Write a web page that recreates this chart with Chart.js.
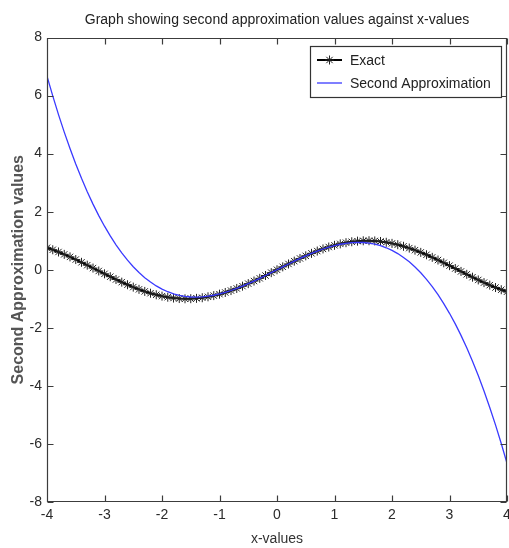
<!DOCTYPE html>
<html><head><meta charset="utf-8">
<script src="https://cdn.jsdelivr.net/npm/chart.js@4"></script>
<style>html,body{margin:0;padding:0;background:#fff;}canvas{display:block;}</style>
</head><body>
<canvas id="c" width="509" height="548"></canvas>
<script>
const xValues = [-4.0,-3.9,-3.8,-3.7,-3.6,-3.5,-3.4,-3.3,-3.2,-3.1,-3.0,-2.9,-2.8,-2.7,-2.6,-2.5,-2.4,-2.3,-2.2,-2.1,-2.0,-1.9,-1.8,-1.7,-1.6,-1.5,-1.4,-1.3,-1.2,-1.1,-1.0,-0.9,-0.8,-0.7,-0.6,-0.5,-0.4,-0.3,-0.2,-0.1,0.0,0.1,0.2,0.3,0.4,0.5,0.6,0.7,0.8,0.9,1.0,1.1,1.2,1.3,1.4,1.5,1.6,1.7,1.8,1.9,2.0,2.1,2.2,2.3,2.4,2.5,2.6,2.7,2.8,2.9,3.0,3.1,3.2,3.3,3.4,3.5,3.6,3.7,3.8,3.9,4.0];
const exactValues = [0.757,0.688,0.612,0.530,0.443,0.351,0.256,0.158,0.058,-0.042,-0.141,-0.239,-0.335,-0.427,-0.516,-0.598,-0.675,-0.746,-0.808,-0.863,-0.909,-0.946,-0.974,-0.992,-1.000,-0.997,-0.985,-0.964,-0.932,-0.891,-0.841,-0.783,-0.717,-0.644,-0.565,-0.479,-0.389,-0.296,-0.199,-0.100,0.000,0.100,0.199,0.296,0.389,0.479,0.565,0.644,0.717,0.783,0.841,0.891,0.932,0.964,0.985,0.997,1.000,0.992,0.974,0.946,0.909,0.863,0.808,0.746,0.675,0.598,0.516,0.427,0.335,0.239,0.141,0.042,-0.058,-0.158,-0.256,-0.351,-0.443,-0.530,-0.612,-0.688,-0.757];
const approxValues = [6.667,5.987,5.345,4.742,4.176,3.646,3.151,2.690,2.261,1.865,1.500,1.165,0.859,0.581,0.329,0.104,-0.096,-0.272,-0.425,-0.557,-0.667,-0.757,-0.828,-0.881,-0.917,-0.938,-0.943,-0.934,-0.912,-0.878,-0.833,-0.779,-0.715,-0.643,-0.564,-0.479,-0.389,-0.296,-0.199,-0.100,0.000,0.100,0.199,0.296,0.389,0.479,0.564,0.643,0.715,0.779,0.833,0.878,0.912,0.934,0.943,0.938,0.917,0.881,0.828,0.757,0.667,0.557,0.425,0.272,0.096,-0.104,-0.329,-0.581,-0.859,-1.165,-1.500,-1.865,-2.261,-2.690,-3.151,-3.646,-4.176,-4.742,-5.345,-5.987,-6.667];
const xTicks = [-4,-3,-2,-1,0,1,2,3,4];
const yTicks = [-8,-6,-4,-2,0,2,4,6,8];
const seriesLabels = ['Exact','Second Approximation'];
const titleText = 'Graph showing second approximation values against x-values';
const xTitle = 'x-values';
const yTitle = 'Second Approximation values';

const tickFont = {family:'"Liberation Sans",Arial,sans-serif', size:14};

const boxPlugin = {
  id:'matlabBox',
  afterDatasetsDraw(chart){
    const {ctx, chartArea:a, scales} = chart;
    const x = scales.x, y = scales.y;
    ctx.save();
    ctx.strokeStyle = '#3c3c3c'; ctx.lineWidth = 1.2;
    const L = Math.round(a.left)+0.5, R = Math.round(a.right)-0.5, T = Math.round(a.top)+0.5, B = Math.round(a.bottom)-0.5;
    ctx.beginPath();
    ctx.rect(L, T, R-L, B-T);
    x.ticks.forEach(t => { const px = Math.round(x.getPixelForValue(t.value))+0.5; ctx.moveTo(px,B); ctx.lineTo(px,B-6); ctx.moveTo(px,T); ctx.lineTo(px,T+6); });
    y.ticks.forEach(t => { const py = Math.round(y.getPixelForValue(t.value))+0.5; ctx.moveTo(L,py); ctx.lineTo(L+6,py); ctx.moveTo(R,py); ctx.lineTo(R-6,py); });
    ctx.stroke();
    // legend
    const lx = 310.5, ly = 46.5, lw = 191, lh = 51;
    ctx.fillStyle = '#fff';
    ctx.fillRect(lx, ly, lw, lh);
    ctx.strokeStyle = '#333'; ctx.lineWidth = 1.2;
    ctx.strokeRect(lx, ly, lw, lh);
    chart.data.datasets.forEach((ds, i) => {
      const cy = 60 + i*23;
      ctx.strokeStyle = ds.borderColor; ctx.lineWidth = ds.borderWidth;
      ctx.beginPath(); ctx.moveTo(317, cy); ctx.lineTo(342, cy); ctx.stroke();
      if (ds.pointRadius > 0) {
        ctx.strokeStyle = ds.pointBorderColor; ctx.fillStyle = ds.pointBorderColor; ctx.lineWidth = ds.pointBorderWidth;
        Chart.helpers.drawPoint(ctx, {pointStyle: ds.pointStyle, radius: ds.pointRadius, borderWidth: ds.pointBorderWidth}, 329.5, cy);
      }
      ctx.fillStyle = '#222';
      ctx.font = '14px "Liberation Sans", Arial, sans-serif';
      ctx.textBaseline = 'middle'; ctx.textAlign = 'left';
      ctx.fillText(ds.label, 350, cy+1);
    });
    ctx.restore();
  }
};

new Chart(document.getElementById('c'), {
  type: 'line',
  data: {
    datasets: [
      {label: seriesLabels[0], data: xValues.map((v,i)=>({x:v, y:exactValues[i]})), borderColor:'#000', borderWidth:2, pointStyle:'star', pointRadius:4.5, pointBorderColor:'#222', pointBorderWidth:1, pointBackgroundColor:'#222', tension:0, order:1},
      {label: seriesLabels[1], data: xValues.map((v,i)=>({x:v, y:approxValues[i]})), borderColor:'#3a3aff', borderWidth:1.3, pointRadius:0, tension:0, order:0}
    ]
  },
  options: {
    responsive:false, animation:false, devicePixelRatio:1,
    layout:{autoPadding:false, padding:{left:0,right:2,top:0,bottom:0}},
    plugins:{
      legend:{display:false}, tooltip:{enabled:false},
      title:{display:true, text:titleText, fullSize:false, color:'#222', font:{family:'"Liberation Sans", Arial, sans-serif', size:14, weight:'normal'}, padding:{top:11.6,bottom:9.1}}
    },
    scales:{
      x:{type:'linear', min:-4, max:4,
        afterBuildTicks(s){ s.ticks = xTicks.map(v=>({value:v})); },
        afterFit(s){ s.height = 46; s.paddingLeft = 0; s.paddingRight = 0; },
        grid:{display:false, drawTicks:false}, border:{display:false},
        ticks:{color:'#2a2a2a', font:tickFont, padding:5, maxRotation:0, autoSkip:false},
        title:{display:true, text:xTitle, color:'#333', font:{family:'"Liberation Sans", Arial, sans-serif', size:14}, padding:{top:0,bottom:0}}
      },
      y:{type:'linear', min:-8, max:8,
        afterBuildTicks(s){ s.ticks = yTicks.map(v=>({value:v})); },
        afterFit(s){ s.width = 47; s.paddingTop = 0; s.paddingBottom = 0; },
        grid:{display:false, drawTicks:false}, border:{display:false},
        ticks:{color:'#2a2a2a', font:tickFont, padding:5, autoSkip:false},
        title:{display:true, text:yTitle, color:'#555', font:{family:'"Liberation Sans", Arial, sans-serif', size:16, weight:'bold'}, padding:{top:9,bottom:0}}
      }
    }
  },
  plugins:[boxPlugin]
});
</script>
</body></html>
